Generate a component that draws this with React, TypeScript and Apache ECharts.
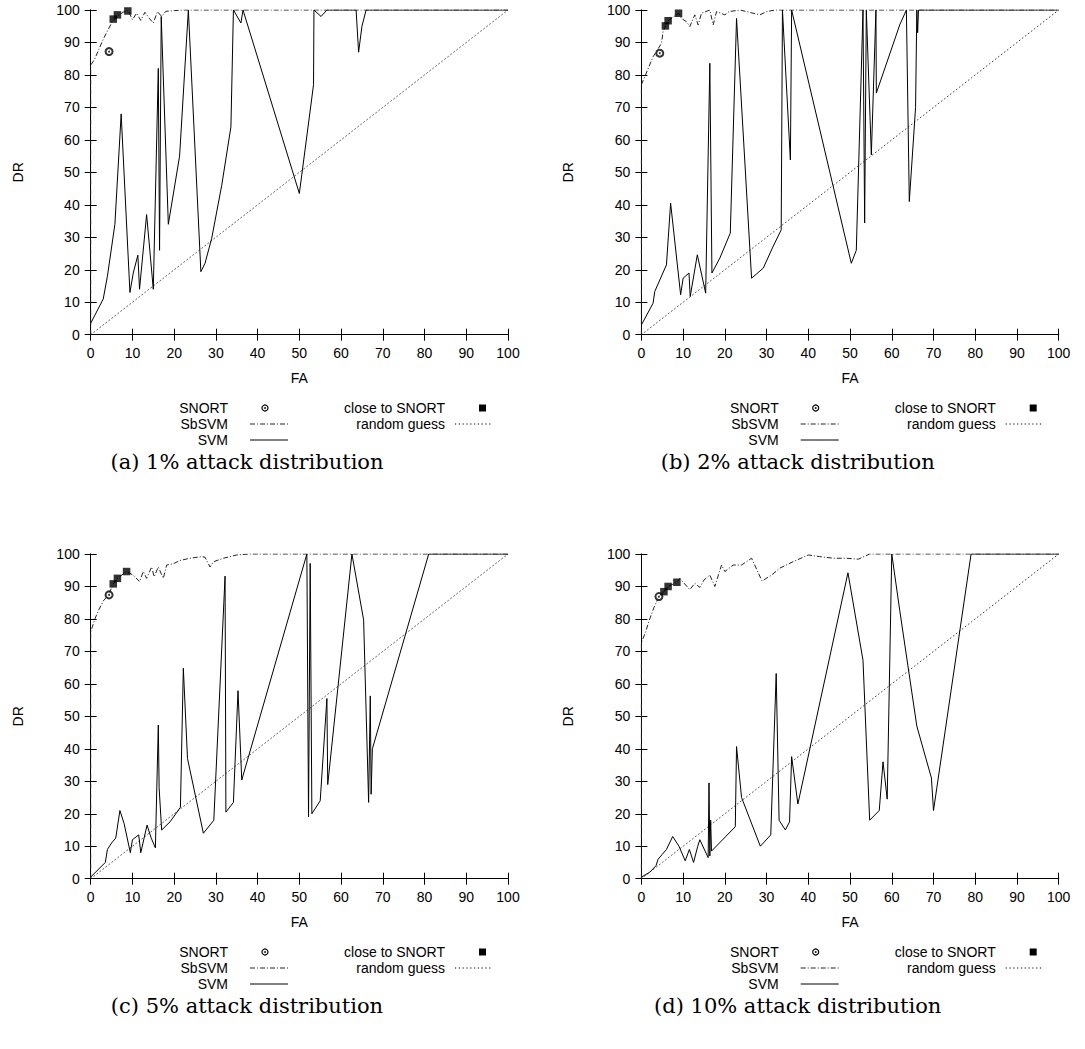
import React, { useEffect, useRef } from "react";
import * as echarts from "echarts";

// ---------- data (FA %, DR %) ----------
const captions = [
  "(a) 1% attack distribution",
  "(b) 2% attack distribution",
  "(c) 5% attack distribution",
  "(d) 10% attack distribution",
];

const randomGuess = [[0, 0], [100, 100]];

const snortA = [[4.4, 87.2]];
const closeA = [[5.4, 97.2], [6.4, 98.5], [8.9, 99.7]];
const sbA = [[0, 0], [0, 40], [0, 83], [1, 85], [2, 88], [3, 91], [4, 93.5], [5.2, 96.5], [6.2, 98], [8, 99.5], [9, 99.8], [10, 97], [11, 99], [12, 96.8], [13, 99.3], [14, 97.5], [15, 96], [16, 99.5], [17, 98], [18, 99.6], [20, 99.8], [22, 100], [100, 100]];
const svmA = [[0, 3.5], [3, 11], [4, 18], [5.8, 34], [7.3, 68], [9.4, 13], [10.2, 19], [11.3, 24.5], [11.7, 14], [13.4, 37], [15, 14], [16.2, 82], [16.5, 26], [16.9, 98], [18.6, 34], [21.3, 55], [23.4, 100], [26.4, 19.4], [27.4, 22], [29, 29.7], [31.4, 46], [33.6, 64], [34.2, 100], [36, 96], [36.5, 100], [50, 43.5], [53.4, 77], [53.5, 100], [55.2, 98], [56.6, 100], [63.6, 100], [64.2, 87], [65, 95], [66, 100], [100, 100]];

const snortB = [[4.4, 86.7]];
const closeB = [[5.75, 95.1], [6.4, 96.7], [8.9, 99]];
const sbB = [[0, 0], [0, 40], [0, 77], [2.8, 85.6], [4.8, 89.7], [5.2, 93.3], [5.75, 95.1], [6.4, 96.7], [8.9, 99], [9.6, 97.4], [10.8, 96.4], [11.6, 94.9], [12.8, 98.5], [13.6, 95.4], [14.4, 99], [16.4, 100], [17.2, 95.4], [18, 99.5], [20, 98.5], [21, 99.5], [23.6, 100], [28.4, 98.5], [30, 99.5], [32, 100], [100, 100]];
const svmB = [[0, 3], [2.8, 9.7], [3.2, 13.3], [6, 21.5], [7, 40.5], [9.4, 12.3], [10, 17.4], [11.4, 19], [11.7, 11.8], [13.4, 24.6], [15.4, 12.8], [16.4, 83.6], [16.9, 19], [18.8, 23.6], [21.3, 31.3], [22.8, 97.4], [26.4, 17.4], [29.2, 20.5], [31.5, 27], [33.5, 32.3], [33.8, 100], [35.7, 53.8], [36, 100], [50.3, 22], [51.5, 26], [53.1, 100], [53.5, 34.4], [53.9, 100], [55.1, 55.4], [56.2, 100], [56.3, 74.4], [61.9, 95.4], [63.5, 100], [64.2, 41], [65.7, 70], [66, 100], [66.2, 93], [66.4, 100], [100, 100]];

const snortC = [[4.4, 87.4]];
const closeC = [[5.4, 90.8], [6.4, 92.5], [8.6, 94.6]];
const sbC = [[0, 0], [0, 40], [0, 76], [1, 80], [2, 83], [3, 85.5], [4.4, 87.8], [5.4, 90.8], [6.4, 92.5], [8.6, 94.6], [10.2, 93.5], [11.7, 91.5], [12.6, 94.6], [13.4, 92.5], [14.6, 96], [15.2, 93], [16.2, 96], [17.4, 92.5], [18.2, 96.6], [19.8, 97], [21.4, 98], [23.8, 98.7], [26.6, 99.2], [27.4, 99], [28.6, 96], [29.4, 97.6], [31.8, 98.7], [35, 99.7], [38, 100], [100, 100]];
const svmC = [[0, 0.5], [3.5, 5], [4, 9], [5, 11], [6, 12.5], [7, 21], [8, 17], [9.5, 8], [10, 12], [11.5, 13.5], [12, 8], [13.5, 16.5], [14.5, 12.5], [15.5, 9.5], [16.2, 47.3], [16.4, 28], [17, 15], [19, 17.5], [21.5, 22], [22.2, 64.8], [23.2, 37], [27, 14], [29.5, 18], [32.2, 93.2], [32.4, 20.5], [34.2, 23.5], [35.3, 57.9], [36.2, 30.4], [51.8, 100], [52.2, 19], [52.6, 97.1], [53, 20], [55, 24], [56.6, 55.5], [56.8, 29], [62.6, 100], [65.4, 79.7], [66.6, 23.5], [67, 56.3], [67.2, 26], [67.5, 40], [81, 100], [100, 100]];

const snortD = [[4.2, 86.9]];
const closeD = [[5.4, 88.4], [6.4, 90], [8.5, 91.3]];
const sbD = [[0, 0], [0, 40], [0, 72.7], [1, 76], [2, 80], [3, 83.5], [4.2, 86.9], [5.4, 88.4], [6.4, 90], [8.5, 91.3], [9.2, 92.5], [11.6, 89], [12.8, 91], [14, 89.7], [15, 92], [16.4, 93.5], [17.6, 90], [19.2, 96.6], [20, 94.6], [22, 96.6], [24, 96.6], [26.4, 98.7], [28.9, 91.7], [31.2, 93.5], [33.1, 95.6], [36.3, 97.6], [40, 99.7], [42.7, 99.2], [46, 98.7], [49, 98.7], [52, 98.4], [54.7, 100], [100, 100]];
const svmD = [[0, 0.5], [2, 2], [3.5, 4], [4, 6], [5, 7.5], [6, 9], [7.5, 13], [9, 10], [10.5, 5.5], [11.5, 9], [12.5, 5], [13.5, 10], [14, 12], [16, 6.5], [16.2, 29.5], [16.4, 7], [16.6, 18], [16.8, 8.5], [22.5, 16], [22.8, 40.7], [24, 25], [28.5, 10], [31, 13.5], [32.3, 63.2], [33, 18], [34.5, 15], [35.5, 17.5], [36, 37.6], [37.5, 23], [49.5, 94.2], [53.1, 67.3], [54.7, 18], [57, 21], [57.9, 36], [58.9, 24.5], [60, 100], [61.9, 82.7], [66, 47], [69.5, 31], [70, 21], [79, 100], [100, 100]];

const legendLeft = ["SNORT", "SbSVM", "SVM"];
const legendRight = ["close to SNORT", "random guess"];

// ---------- component ----------
const FONT = '"Liberation Sans", Arial, sans-serif';

export default function App() {
  const ref = useRef<HTMLDivElement>(null);

  useEffect(() => {
    if (!ref.current) return;
    const chart = echarts.init(ref.current, undefined, { renderer: "svg" });

    const panels = [
      { svm: svmA, sb: sbA, snort: snortA, close: closeA },
      { svm: svmB, sb: sbB, snort: snortB, close: closeB },
      { svm: svmC, sb: sbC, snort: snortC, close: closeC },
      { svm: svmD, sb: sbD, snort: snortD, close: closeD },
    ];
    const offs = [
      [0, 0],
      [550.7, 0],
      [0, 544],
      [550.7, 544],
    ];

    const grid: any[] = [];
    const xAxis: any[] = [];
    const yAxis: any[] = [];
    const series: any[] = [];
    const graphic: any[] = [];

    const axisLine = { show: true, lineStyle: { color: "#000", width: 1 } };
    const tick = { show: true, inside: true, length: 6, lineStyle: { color: "#000", width: 1 } };
    const lbl = { color: "#000", fontFamily: FONT, fontSize: 14 };

    panels.forEach((p, i) => {
      const [dx, dy] = offs[i];
      grid.push({ left: 90.7 + dx, top: 10 + dy, width: 417.3, height: 324.7, containLabel: false });
      xAxis.push({
        type: "value", gridIndex: i, min: 0, max: 100, interval: 10, position: "bottom",
        name: "FA", nameLocation: "middle", nameGap: 36,
        nameTextStyle: { ...lbl },
        axisLine, axisTick: tick, splitLine: { show: false },
        axisLabel: { ...lbl, margin: 11 },
      });
      xAxis.push({
        type: "value", gridIndex: i, min: 0, max: 100, interval: 10, position: "top",
        axisLine, axisTick: tick, splitLine: { show: false }, axisLabel: { show: false },
      });
      yAxis.push({
        type: "value", gridIndex: i, min: 0, max: 100, interval: 10, position: "left",
        name: "DR", nameLocation: "middle", nameGap: 66, nameRotate: 90,
        nameTextStyle: { ...lbl },
        axisLine, axisTick: tick, splitLine: { show: false },
        axisLabel: { ...lbl, margin: 11 },
      });
      yAxis.push({
        type: "value", gridIndex: i, min: 0, max: 100, interval: 10, position: "right",
        axisLine, axisTick: tick, splitLine: { show: false }, axisLabel: { show: false },
      });
      const xi = 2 * i;
      const yi = 2 * i;
      series.push({
        type: "line", name: "random guess", xAxisIndex: xi, yAxisIndex: yi, data: randomGuess,
        symbol: "none", lineStyle: { color: "#000", width: 1, type: [1.2, 2.6] }, z: 2,
      });
      series.push({
        type: "line", name: "SVM", xAxisIndex: xi, yAxisIndex: yi, data: p.svm,
        symbol: "none", clip: true, lineStyle: { color: "#000", width: 1 }, z: 3,
      });
      series.push({
        type: "line", name: "SbSVM", xAxisIndex: xi, yAxisIndex: yi, data: p.sb,
        symbol: "none", clip: true, lineStyle: { color: "#222", width: 1, type: [5, 2, 1, 2] }, z: 4,
      });
      series.push({
        type: "scatter", name: "SNORT", xAxisIndex: xi, yAxisIndex: yi, data: p.snort,
        symbol: "emptyCircle", symbolSize: 7, itemStyle: { color: "#000", borderWidth: 1.6 }, z: 5,
      });
      series.push({
        type: "scatter", name: "SNORT dot", xAxisIndex: xi, yAxisIndex: yi, data: p.snort,
        symbol: "circle", symbolSize: 2, itemStyle: { color: "#000" }, z: 6,
      });
      series.push({
        type: "scatter", name: "close to SNORT", xAxisIndex: xi, yAxisIndex: yi, data: p.close,
        symbol: "rect", symbolSize: 7.5, itemStyle: { color: "#000" }, z: 6,
      });

      // legend (gnuplot style key)
      const rows = [408 + dy, 424 + dy, 440 + dy];
      const txt = (text: string, x: number, y: number, align: string) => ({
        type: "text",
        style: {
          text, x, y, fill: "#000", font: `14px ${FONT}`,
          textAlign: align, align, textVerticalAlign: "middle", verticalAlign: "middle",
        },
      });
      legendLeft.forEach((t, k) => graphic.push(txt(t, 228 + dx, rows[k], "right")));
      legendRight.forEach((t, k) => graphic.push(txt(t, 445 + dx, rows[k], "right")));
      // SNORT symbol
      graphic.push({ type: "circle", shape: { cx: 265 + dx, cy: rows[0], r: 3 }, style: { fill: "#fff", stroke: "#000", lineWidth: 1.2 } });
      graphic.push({ type: "circle", shape: { cx: 265 + dx, cy: rows[0], r: 0.9 }, style: { fill: "#000" } });
      // SbSVM sample
      graphic.push({ type: "line", shape: { x1: 250 + dx, y1: rows[1], x2: 288 + dx, y2: rows[1] }, style: { stroke: "#222", lineWidth: 1, lineDash: [5, 2, 1, 2] } });
      // SVM sample
      graphic.push({ type: "line", shape: { x1: 250 + dx, y1: rows[2], x2: 288 + dx, y2: rows[2] }, style: { stroke: "#000", lineWidth: 1 } });
      // close to SNORT square
      graphic.push({ type: "rect", shape: { x: 479 + dx, y: rows[0] - 3.5, width: 7, height: 7 }, style: { fill: "#000" } });
      // random guess sample
      graphic.push({ type: "line", shape: { x1: 455 + dx, y1: rows[1], x2: 493 + dx, y2: rows[1] }, style: { stroke: "#000", lineWidth: 1, lineDash: [1.2, 2.6] } });
      // caption
      graphic.push({
        type: "text",
        style: {
          text: captions[i], x: 247 + dx, y: 462 + dy, fill: "#000", font: '21px "DejaVu Serif", serif',
          textAlign: "center", align: "center", textVerticalAlign: "middle", verticalAlign: "middle",
        },
      });
    });

    chart.setOption({
      animation: false,
      backgroundColor: "#fff",
      grid, xAxis, yAxis, series, graphic,
    });

    return () => chart.dispose();
  }, []);

  return (
    <div
      ref={ref}
      style={{ position: "absolute", left: 0, top: 0, width: 1085, height: 1049, background: "#fff" }}
    />
  );
}
